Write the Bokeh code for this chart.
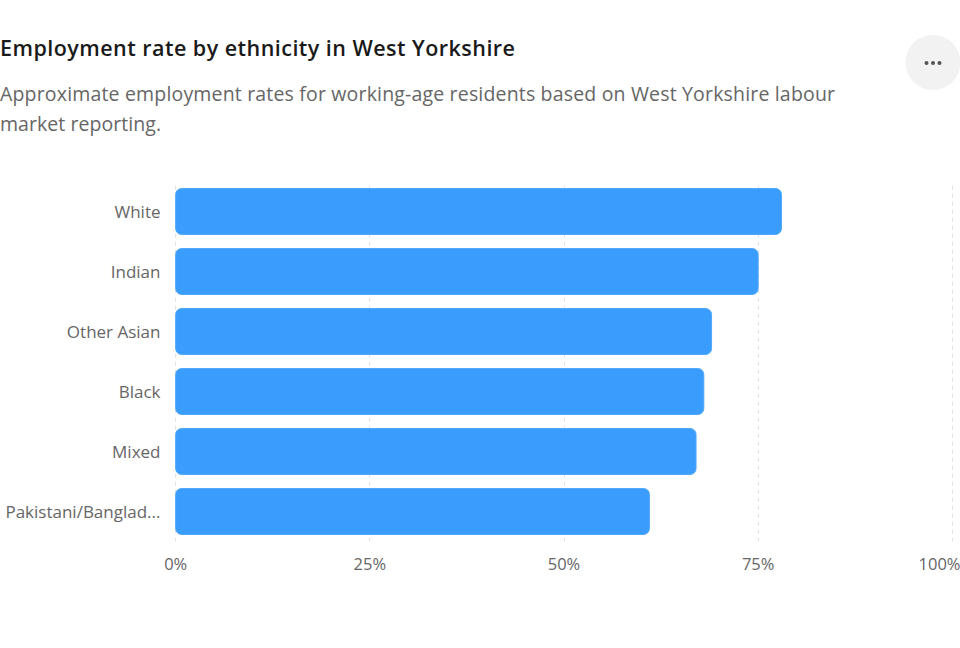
from bokeh.plotting import figure
from bokeh.layouts import column
from bokeh.models import Div, FactorRange, FixedTicker, Range1d
from bokeh.embed import file_html
from bokeh.resources import INLINE

categories = ["White", "Indian", "Other Asian", "Black", "Mixed", "Pakistani/Banglad..."]
rates = [78, 75, 69, 68, 67, 61]
tick_values = [0, 25, 50, 75, 100]
tick_labels = ["0%", "25%", "50%", "75%", "100%"]

title_text = "Employment rate by ethnicity in West Yorkshire"
subtitle_lines = [
    "Approximate employment rates for working-age residents based on West Yorkshire labour",
    "market reporting.",
]

FONT = "Open Sans"
W, H = 960, 648
HEADER_H = 181
FL, FR, FB = 175, 952, 541  # frame edges in page px

# ---------- header (title, subtitle, menu button) as inline SVG ----------
sub_svg = "".join(
    f'<text x="0" y="{101 + 30 * i}" textLength="{tl}" lengthAdjust="spacing" '
    f'style="font-family:\'{FONT}\',sans-serif;font-size:19.5px;fill:#666666">{line}</text>'
    for i, (line, tl) in enumerate(zip(subtitle_lines, [835, 161]))
)
header_html = (
    f'<svg xmlns="http://www.w3.org/2000/svg" width="{W}" height="{HEADER_H}" '
    f'style="display:block">'
    f'<text x="0" y="56" textLength="515" lengthAdjust="spacing" '
    f'style="font-family:\'{FONT}\',sans-serif;font-size:21.5px;font-weight:600;fill:#1a1a1a">'
    f'{title_text}</text>'
    f'{sub_svg}'
    f'<circle cx="933" cy="62.5" r="27.5" style="fill:#f2f2f2"/>'
    f'<circle cx="926.5" cy="63" r="2" style="fill:#555555"/>'
    f'<circle cx="933" cy="63" r="2" style="fill:#555555"/>'
    f'<circle cx="939.5" cy="63" r="2" style="fill:#555555"/>'
    f'</svg>'
)
hdr = Div(text=header_html, width=W, height=HEADER_H, margin=(0, 0, 0, 0))

# ---------- main chart ----------
p = figure(
    width=W, height=H - HEADER_H, output_backend="svg", toolbar_location=None,
    y_range=FactorRange(*reversed(categories)), x_range=Range1d(-0.15, 100.15),
    min_border_left=FL - 1, min_border_right=W - FR - 1, min_border_top=0,
    min_border_bottom=H - FB,
)
p.outline_line_color = None
p.background_fill_color = "white"
p.border_fill_color = "white"

p.hbar(y=categories, left=0, right=rates, height=0.767,
       fill_color="#3a9dfe", line_color="#4fa8fd", line_width=1,
       border_radius=6)

p.xaxis.ticker = FixedTicker(ticks=tick_values)
p.xaxis.major_label_overrides = {v: t for v, t in zip(tick_values, tick_labels)}
p.xaxis.axis_line_color = None
p.xaxis.major_tick_line_color = None
p.xaxis.minor_tick_line_color = None
p.xaxis.major_tick_out = 0
p.xaxis.major_tick_in = 0
p.xaxis.major_label_standoff = 10
p.xaxis.major_label_text_font = FONT
p.xaxis.major_label_text_font_size = "16.5px"
p.xaxis.major_label_text_color = "#666666"

p.yaxis.axis_line_color = None
p.yaxis.major_tick_line_color = None
p.yaxis.minor_tick_line_color = None
p.yaxis.major_tick_out = 0
p.yaxis.major_tick_in = 0
p.yaxis.major_label_standoff = 14
p.yaxis.major_label_text_font = FONT
p.yaxis.major_label_text_font_size = "17px"
p.yaxis.major_label_text_color = "#666666"

p.xgrid.ticker = FixedTicker(ticks=tick_values)
p.xgrid.grid_line_color = "#e3e3e3"
p.xgrid.grid_line_dash = "4 4"
p.xgrid.grid_line_width = 1
p.ygrid.grid_line_color = None

layout = column(hdr, p, spacing=0)
open("out.html", "w").write(file_html(layout, INLINE))
